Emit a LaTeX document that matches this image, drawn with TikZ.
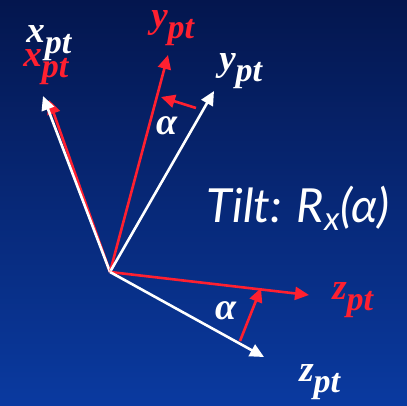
\documentclass[tikz,border=0pt]{standalone}
\usepackage{fontspec}
\setmainfont{Liberation Serif}
\newfontfamily\tiltfont{Lato}
\usetikzlibrary{arrows.meta}
\definecolor{bgtop}{RGB}{4,22,78}
\definecolor{bgbot}{RGB}{10,58,160}
\definecolor{axred}{RGB}{255,32,48}
\tikzset{
  ax/.style={line width=2.6pt,-{Triangle[length=14pt,width=13pt]}},
  lab/.style={font=\fontsize{37}{37}\selectfont\bfseries\itshape, inner sep=0pt},
  alab/.style={font=\fontsize{38}{38}\selectfont\bfseries\itshape, text=white, inner sep=0pt}
}
\newcommand{\ptlab}[1]{#1\textsubscript{\fontsize{34}{34}\selectfont pt}}
\begin{document}
\begin{tikzpicture}[x=1pt,y=-1pt]
\shade[top color=bgtop,bottom color=bgbot] (0,0) rectangle (407,405);
\useasboundingbox (0,0) rectangle (407,405);
\coordinate (O) at (110,272);
\coordinate (xr) at (49,100);
\coordinate (xw) at (43,96);
\coordinate (yr) at (168,55);
\coordinate (yw) at (214,91);
\coordinate (zr) at (309,295);
\coordinate (zw) at (264,357);
\coordinate (a1s) at (196,108);
\coordinate (a1e) at (161,97);
\coordinate (a2s) at (240,341);
\coordinate (a2e) at (261,288);
\draw[ax,axred] (O) -- (xr);
\draw[ax,white] (O) -- (xw);
\draw[ax,axred] (O) -- (yr);
\draw[ax,white] (O) -- (yw);
\draw[ax,axred] (O) -- (zr);
\draw[ax,white] (O) -- (zw);
\draw[ax,axred] (a1s) -- (a1e);
\draw[ax,axred] (a2s) -- (a2e);
\node[lab,text=white] (lxw) at (49,43) {\ptlab{x}};
\node[lab,text=axred] (lxr) at (46,67) {\ptlab{x}};
\node[lab,text=axred] (lyr) at (173,28) {\ptlab{y}};
\node[lab,text=white] (lyw) at (241,71) {\ptlab{y}};
\node[lab,text=axred] (lzr) at (353,300) {\ptlab{z}};
\node[lab,text=white] (lzw) at (320,382) {\ptlab{z}};
\node[alab] (al1) at (167,126) {α};
\node[alab] (al2) at (226,311) {α};
\node[text=white,font=\tiltfont\itshape\fontsize{47}{47}\selectfont,inner sep=0pt] (tilt) at (298,208) {Tilt: R\textsubscript{x}(α)};
\end{tikzpicture}
\end{document}
